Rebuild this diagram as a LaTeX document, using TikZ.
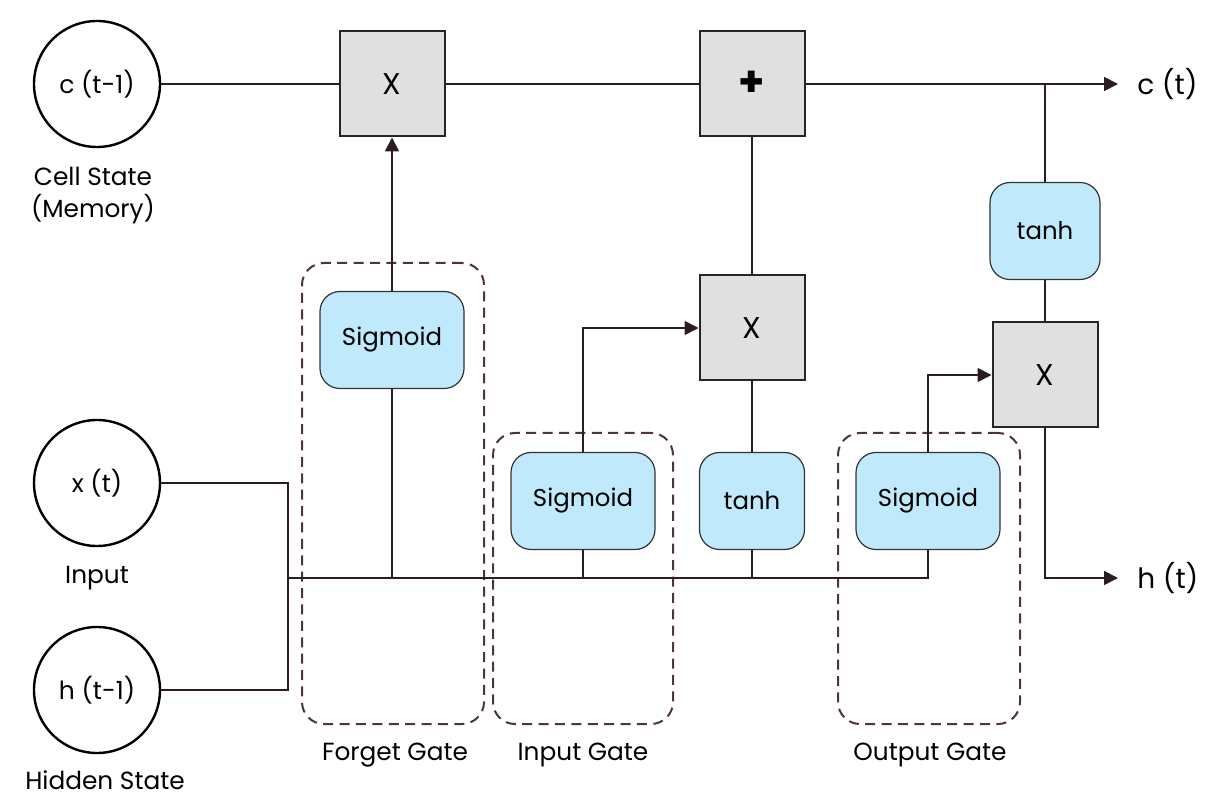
\documentclass[tikz,border=0pt]{standalone}
\usepackage{fontspec}
\setmainfont{Poppins}
\usetikzlibrary{arrows.meta}
\definecolor{opgray}{HTML}{E0E0E0}
\definecolor{actblue}{HTML}{C0EAFC}
\definecolor{gatecol}{HTML}{4E3342}
\definecolor{wirecol}{HTML}{2B1B24}

\begin{document}
\begin{tikzpicture}[x=0.5pt, y=-0.5pt, font=\fontsize{12.4}{16}\selectfont]
            \tikzstyle{state} = [circle, draw=black, line width=1.2pt, minimum size=63pt, inner sep=0pt, font=\fontsize{12.5}{15}\selectfont]
            \tikzstyle{op} = [rectangle, draw=black!85, fill=opgray, line width=1pt, minimum width=52.5pt, minimum height=52.5pt, font=\fontsize{15}{15}\selectfont]
            \tikzstyle{act} = [rectangle, rounded corners=10pt, draw=black!80, fill=actblue, line width=0.6pt, minimum width=72pt, minimum height=48.5pt, font=\fontsize{12.2}{15}\selectfont]
            \tikzstyle{gate} = [rectangle, rounded corners=11pt, draw=gatecol, line width=1pt, dash pattern=on 5pt off 3.2pt]
            \tikzstyle{wire} = [draw=wirecol, line width=0.9pt]
            \tikzstyle{outlbl} = [anchor=west, inner xsep=9.5pt, font=\fontsize{14}{16}\selectfont]
            \tikzstyle{tip} = [-{Triangle[length=7pt, width=7pt]}]

            \useasboundingbox (0, 0) rectangle (1209, 806);

            % inputs and states
            \node[state] (cprev) at (97, 84) {c (t-1)};
            \node[align=center] (cprevlbl) at (93, 196) {Cell State\\(Memory)};
            \node[state] (xt) at (97, 483) {x (t)};
            \node (xtlbl) at (97, 578) {Input};
            \node[state] (hprev) at (97, 690) {h (t-1)};
            \node (hprevlbl) at (105, 780) {Hidden State};

            % gates
            \node[gate, minimum width=91pt, minimum height=230.5pt] (fgate) at (393, 493.5) {};
            \node[gate, minimum width=90pt, minimum height=145.5pt] (igate) at (583, 578.5) {};
            \node[gate, minimum width=91pt, minimum height=145.5pt] (ogate) at (929, 578.5) {};
            \node (fgatelbl) at (395, 755) {Forget Gate};
            \node (igatelbl) at (583, 755) {Input Gate};
            \node (ogatelbl) at (930, 755) {Output Gate};

            % operations
            \node[op] (fmul) at (392, 84) {X};
            \node[op, font=\fontsize{21}{21}\selectfont\bfseries] (add) at (752, 84) {+};
            \node[op] (imul) at (752, 328) {X};
            \node[op] (omul) at (1045, 375) {X};

            \node[act] (fsig) at (392, 340) {Sigmoid};
            \node[act] (isig) at (583, 501) {Sigmoid};
            \node[act, minimum width=52.5pt] (itanh) at (752, 501) {tanh};
            \node[act] (osig) at (928, 501) {Sigmoid};
            \node[act, minimum width=55pt] (otanh) at (1045, 231) {tanh};

            % outputs
            \node[outlbl] (ct) at (1118, 84) {c (t)};
            \node[outlbl] (ht) at (1118, 578) {h (t)};
            \coordinate (ctap) at (1045, 84);
            \coordinate (merge) at (288, 578);

            % cell state line
            \draw[wire] (cprev) -- (fmul);
            \draw[wire] (fmul) -- (add);
            \draw[wire, tip] (add) -- (ct);
            \draw[wire] (ctap) -- (otanh);
            \draw[wire] (otanh) -- (omul);
            \draw[wire, tip] (omul.south) |- (ht);

            % input bus
            \draw[wire] (xt.east) -| (merge) |- (hprev.east);
            \draw[wire] (merge) -| (osig.south);
            \draw[wire] (fsig.south) -- (fsig.south |- merge);
            \draw[wire] (isig.south) -- (isig.south |- merge);
            \draw[wire] (itanh.south) -- (itanh.south |- merge);

            % gate outputs
            \draw[wire, tip] (fsig) -- (fmul);
            \draw[wire, tip] (isig.north) |- (imul.west);
            \draw[wire, tip] (osig.north) |- (omul.west);
            \draw[wire] (itanh) -- (imul);
            \draw[wire] (imul) -- (add);
        \end{tikzpicture}
\end{document}
